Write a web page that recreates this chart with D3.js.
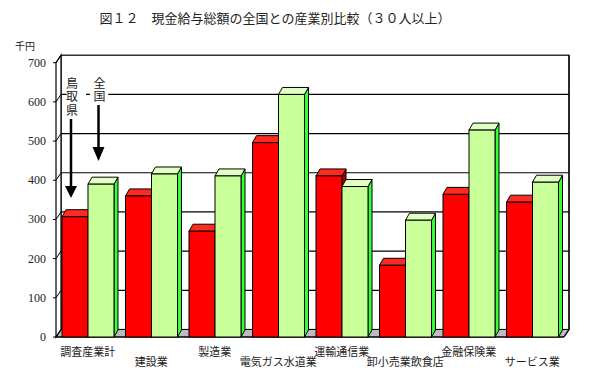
<!DOCTYPE html>
<html><head><meta charset="utf-8">
<script src="https://cdn.jsdelivr.net/npm/d3@7"></script>
<style>html,body{margin:0;padding:0;background:#fff;}svg{display:block;}</style>
</head><body>
<script>
const categories = ["調査産業計","建設業","製造業","電気ガス水道業","運輸通信業","卸小売業飲食店","金融保険業","サービス業"];
const seriesNames = ["鳥取県","全国"];
const tottori = [307,360,270,496,411,183,364,344];
const national = [390,416,411,619,384,298,528,395];
const yTicks = [0,100,200,300,400,500,600,700];
const title = "図１２　現金給与総額の全国との産業別比較（３０人以上）";
const unitLabel = "千円";

const W = 595, H = 382;
const svg = d3.select("body").append("svg").attr("width", W).attr("height", H);
const jp = "'Noto Sans CJK JP','Noto Sans',sans-serif";
const serif = "'Liberation Serif','DejaVu Serif',serif";

const x0 = 56, x1 = 564, yBottom = 337, yTop700 = 62.7;
const wall = {dx: 5, dy: -7.5};
const bar = {dx: 4, dy: -7};

const x = d3.scaleBand().domain(categories).range([x0, x1]);
const xs = d3.scaleBand().domain(seriesNames).range([6, 58]);
const y = d3.scaleLinear().domain([0, 700]).range([yBottom, yTop700]);

const colors = {
  "鳥取県": {front: "#ff0000", top: "#ff2a20", side: "#b00000"},
  "全国": {front: "#c8ff99", top: "#e2ffc6", side: "#33ff33"}
};

// back wall
svg.append("rect")
  .attr("x", x0 + wall.dx).attr("y", y(700) + wall.dy)
  .attr("width", x1 - x0).attr("height", y(0) - y(700))
  .attr("fill", "#fff").attr("stroke", "#000").attr("stroke-width", 1.2);
// back gridlines
svg.append("g").selectAll("line").data(yTicks.filter(t => t > 0 && t < 700)).join("line")
  .attr("x1", x0 + wall.dx).attr("x2", x1 + wall.dx)
  .attr("y1", d => y(d) + wall.dy).attr("y2", d => y(d) + wall.dy)
  .attr("stroke", "#000").attr("stroke-width", 1.2);

// floor
const floorPts = [[x0, yBottom],[x0 + wall.dx, yBottom + wall.dy],[x1 + wall.dx, yBottom + wall.dy],[x1, yBottom]];
svg.append("polygon").attr("points", floorPts.map(p => p.join(",")).join(" "))
  .attr("fill", "#bcbcbc").attr("stroke", "#000").attr("stroke-width", 1);

// left wall
const lw = [[x0, y(700)],[x0 + wall.dx, y(700) + wall.dy],[x0 + wall.dx, y(0) + wall.dy],[x0, y(0)]];
svg.append("polygon").attr("points", lw.map(p => p.join(",")).join(" "))
  .attr("fill", "#fff").attr("stroke", "#000").attr("stroke-width", 1.2);
svg.append("g").selectAll("line").data(yTicks).join("line")
  .attr("x1", x0).attr("x2", x0 + wall.dx)
  .attr("y1", d => y(d)).attr("y2", d => y(d) + wall.dy)
  .attr("stroke", "#000").attr("stroke-width", 1);
svg.append("g").selectAll("line").data(yTicks).join("line")
  .attr("x1", x0 - 3).attr("x2", x0)
  .attr("y1", d => y(d)).attr("y2", d => y(d))
  .attr("stroke", "#000").attr("stroke-width", 1);
// right edge
svg.append("polyline")
  .attr("points", [[x1 + wall.dx, y(700) + wall.dy],[x1 + wall.dx, y(0) + wall.dy],[x1, y(0)]].map(p => p.join(",")).join(" "))
  .attr("fill", "none").attr("stroke", "#000").attr("stroke-width", 1.2);
svg.append("line").attr("x1", x0 - 0.5).attr("x2", x1).attr("y1", y(0)).attr("y2", y(0))
  .attr("stroke", "#000").attr("stroke-width", 1.2);

// bars
const rows = [];
categories.forEach((c, i) => {
  rows.push({cat: c, s: seriesNames[0], v: tottori[i]});
  rows.push({cat: c, s: seriesNames[1], v: national[i]});
});
const bw = xs.bandwidth();
const gBars = svg.append("g");
rows.forEach(d => {
  const xl = x(d.cat) + xs(d.s), yt = y(d.v), yb = y(0);
  const col = colors[d.s];
  const g = gBars.append("g").attr("stroke", "#000").attr("stroke-width", 1).attr("stroke-linejoin", "miter");
  g.append("polygon")
    .attr("points", [[xl + bw, yt],[xl + bw + bar.dx, yt + bar.dy],[xl + bw + bar.dx, yb + bar.dy],[xl + bw, yb]].map(p => p.join(",")).join(" "))
    .attr("fill", col.side);
  g.append("polygon")
    .attr("points", [[xl, yt],[xl + bar.dx, yt + bar.dy],[xl + bw + bar.dx, yt + bar.dy],[xl + bw, yt]].map(p => p.join(",")).join(" "))
    .attr("fill", col.top);
  g.append("rect").attr("x", xl).attr("y", yt).attr("width", bw).attr("height", yb - yt)
    .attr("fill", col.front);
});

// y tick labels
svg.append("g").selectAll("text").data(yTicks).join("text")
  .attr("x", 46).attr("y", d => y(d) + 4)
  .attr("text-anchor", "end").attr("font-family", serif).attr("font-size", 12)
  .attr("fill", "#222").text(d => d);

// category labels (staggered)
svg.append("g").selectAll("text").data(categories).join("text")
  .attr("x", d => x(d) + x.bandwidth() / 2)
  .attr("y", (d, i) => i % 2 === 0 ? 355.5 : 366)
  .attr("text-anchor", "middle").attr("font-family", jp).attr("font-size", 11)
  .attr("fill", "#222").text(d => d);

// title & unit
svg.append("text").attr("x", 275).attr("y", 23).attr("text-anchor", "middle")
  .attr("font-family", jp).attr("font-size", 13).attr("fill", "#222").text(title);
svg.append("text").attr("x", 15).attr("y", 50)
  .attr("font-family", jp).attr("font-size", 10).attr("fill", "#222").text(unitLabel);

// series annotations with arrows (vertical text)
const ann = [
  {name: seriesNames[0], cx: 72, rx0: 66.7, rx1: 86, y0: 76, shaft: [119, 187], head: [186, 198]},
  {name: seriesNames[1], cx: 99.5, rx0: 90, rx1: 108.3, y0: 76, shaft: [105, 148], head: [147, 161]}
];
ann.forEach(a => {
  const n = Array.from(a.name).length;
  svg.append("rect").attr("x", a.rx0).attr("y", a.y0).attr("width", a.rx1 - a.rx0)
    .attr("height", n * 13.5 + 2).attr("fill", "#fff");
  svg.append("text").attr("x", a.cx).attr("y", a.y0 + 1)
    .attr("font-family", jp).attr("font-size", 12).attr("fill", "#222")
    .attr("letter-spacing", 1.5)
    .style("writing-mode", "vertical-rl").style("text-orientation", "upright")
    .text(a.name);
  const ax = a.cx - 1;
  svg.append("line").attr("x1", ax).attr("x2", ax).attr("y1", a.shaft[0]).attr("y2", a.shaft[1])
    .attr("stroke", "#000").attr("stroke-width", 2.5);
  svg.append("polygon")
    .attr("points", [[ax - 6, a.head[0]],[ax + 6, a.head[0]],[ax, a.head[1]]].map(p => p.join(",")).join(" "))
    .attr("fill", "#000");
});
</script>
</body></html>
